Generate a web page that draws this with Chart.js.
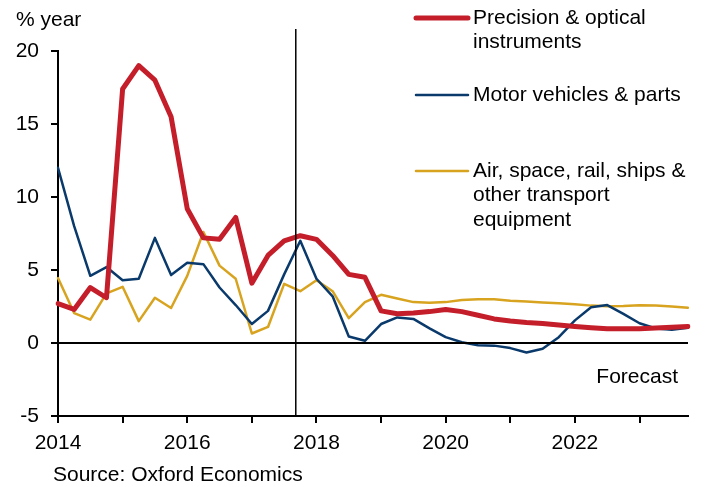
<!DOCTYPE html>
<html>
<head>
<meta charset="utf-8">
<script src="https://cdn.jsdelivr.net/npm/chart.js@4"></script>
<style>
  html, body { margin: 0; padding: 0; background: #fff; }
  #wrap { width: 709px; height: 487px; position: relative; }
</style>
</head>
<body>
<div id="wrap"><canvas id="chart" width="709" height="487"></canvas></div>
<script>
const FONT = '"Liberation Sans", Arial, sans-serif';
Chart.defaults.font.family = FONT;
Chart.defaults.font.size = 21;
Chart.defaults.color = '#000';

// quarterly categories, 2014 Q1 .. 2023 Q4
const quarters = [
  '2014 Q1','2014 Q2','2014 Q3','2014 Q4','2015 Q1','2015 Q2','2015 Q3','2015 Q4',
  '2016 Q1','2016 Q2','2016 Q3','2016 Q4','2017 Q1','2017 Q2','2017 Q3','2017 Q4',
  '2018 Q1','2018 Q2','2018 Q3','2018 Q4','2019 Q1','2019 Q2','2019 Q3','2019 Q4',
  '2020 Q1','2020 Q2','2020 Q3','2020 Q4','2021 Q1','2021 Q2','2021 Q3','2021 Q4',
  '2022 Q1','2022 Q2','2022 Q3','2022 Q4','2023 Q1','2023 Q2','2023 Q3','2023 Q4'
];

const precision = [
  2.7, 2.3, 3.8, 3.1, 17.4, 19.0, 18.0, 15.5,
  9.2, 7.2, 7.1, 8.6, 4.1, 6.0, 7.0, 7.35,
  7.1, 6.0, 4.7, 4.5, 2.2, 2.0, 2.05, 2.15,
  2.3, 2.15, 1.9, 1.65, 1.5, 1.4, 1.33, 1.23,
  1.13, 1.04, 0.97, 0.97, 0.98, 1.03, 1.08, 1.13
];

const motor = [
  12.0, 8.0, 4.6, 5.2, 4.3, 4.4, 7.2, 4.65,
  5.5, 5.4, 3.8, 2.6, 1.3, 2.2, 4.7, 7.0,
  4.4, 3.2, 0.45, 0.15, 1.3, 1.75, 1.65, 1.0,
  0.4, 0.05, -0.15, -0.18, -0.35, -0.65, -0.4, 0.4,
  1.55, 2.45, 2.6, 2.0, 1.35, 1.0, 0.9, 1.05
];

const transport = [
  4.45, 2.05, 1.6, 3.4, 3.85, 1.5, 3.1, 2.4,
  4.6, 7.6, 5.3, 4.4, 0.65, 1.1, 4.05, 3.55,
  4.3, 3.55, 1.7, 2.8, 3.3, 3.05, 2.8, 2.75,
  2.8, 2.95, 3.0, 3.0, 2.9, 2.85, 2.78, 2.72,
  2.65, 2.56, 2.52, 2.53, 2.58, 2.57, 2.5, 2.42
];

const seriesNames = [
  ['Precision & optical', 'instruments'],
  ['Motor vehicles & parts'],
  ['Air, space, rail, ships &', 'other transport', 'equipment']
];
const colors = ['#c41e2a', '#0a3a6b', '#d8a31f'];
const yTicks = [-5, 0, 5, 10, 15, 20];
const forecastAt = 14.72;   // position of the forecast divider (quarter index)

const overlay = {
  id: 'overlay',
  afterDatasetsDraw(chart) {
    const { ctx, chartArea: a, scales: { x, y } } = chart;
    ctx.save();
    // zero line
    ctx.strokeStyle = '#000';
    ctx.lineWidth = 2;
    const y0 = Math.round(y.getPixelForValue(0));
    ctx.beginPath();
    ctx.moveTo(a.left, y0);
    ctx.lineTo(a.right, y0);
    ctx.stroke();
    // forecast divider
    const xf = x.getPixelForValue(forecastAt);
    ctx.lineWidth = 1.5;
    ctx.beginPath();
    ctx.moveTo(xf, 29);
    ctx.lineTo(xf, a.bottom);
    ctx.stroke();
    ctx.restore();
  },
  afterDraw(chart) {
    const { ctx } = chart;
    ctx.save();
    ctx.font = '21px ' + FONT;
    ctx.fillStyle = '#000';
    ctx.textBaseline = 'middle';
    ctx.textAlign = 'left';
    ctx.fillText('% year', 16, 20);
    ctx.fillText('Source: Oxford Economics', 53, 475);
    ctx.textAlign = 'right';
    ctx.fillText('Forecast', 678, 377);

    // legend
    const rows = [18, 95, 171];
    ctx.textAlign = 'left';
    chart.data.datasets.forEach((ds, i) => {
      ctx.strokeStyle = ds.borderColor;
      ctx.lineWidth = ds.borderWidth;
      ctx.lineCap = 'round';
      ctx.beginPath();
      ctx.moveTo(416, rows[i]);
      ctx.lineTo(468, rows[i]);
      ctx.stroke();
      seriesNames[i].forEach((t, j) => ctx.fillText(t, 473, rows[i] + j * 24.5));
    });
    ctx.restore();
  }
};

new Chart(document.getElementById('chart'), {
  type: 'line',
  data: {
    labels: quarters,
    datasets: [
      { label: seriesNames[0].join(' '), data: precision, borderColor: colors[0], borderWidth: 5 },
      { label: seriesNames[1].join(' '), data: motor, borderColor: colors[1], borderWidth: 2.5 },
      { label: seriesNames[2].join(' '), data: transport, borderColor: colors[2], borderWidth: 2.5 }
    ]
  },
  options: {
    responsive: false,
    animation: false,
    layout: { padding: { top: 51, right: 21, left: 0, bottom: 0 } },
    elements: {
      point: { radius: 0 },
      line: { tension: 0, borderJoinStyle: 'round', borderCapStyle: 'round' }
    },
    plugins: { legend: { display: false }, tooltip: { enabled: false } },
    scales: {
      x: {
        type: 'category',
        offset: false,
        border: { display: true, color: '#000', width: 2 },
        grid: {
          drawOnChartArea: false,
          drawTicks: true,
          tickLength: 7,
          lineWidth: 2,
          color: c => (c.index % 4 === 0 ? '#000' : 'rgba(0,0,0,0)')
        },
        ticks: {
          autoSkip: false,
          maxRotation: 0,
          padding: 8,
          color: '#000',
          callback: (v, i) => (i % 8 === 0 ? quarters[i].slice(0, 4) : '')
        },
        afterFit: s => { s.height = 71; }
      },
      y: {
        min: -5,
        max: 20,
        border: { display: true, color: '#000', width: 2 },
        grid: { drawOnChartArea: false, drawTicks: true, tickLength: 7, lineWidth: 2, color: '#000' },
        afterBuildTicks: s => { s.ticks = yTicks.map(v => ({ value: v })); },
        ticks: { padding: 12, color: '#000' },
        afterFit: s => { s.width = 58; }
      }
    }
  },
  plugins: [overlay]
});
</script>
</body>
</html>
